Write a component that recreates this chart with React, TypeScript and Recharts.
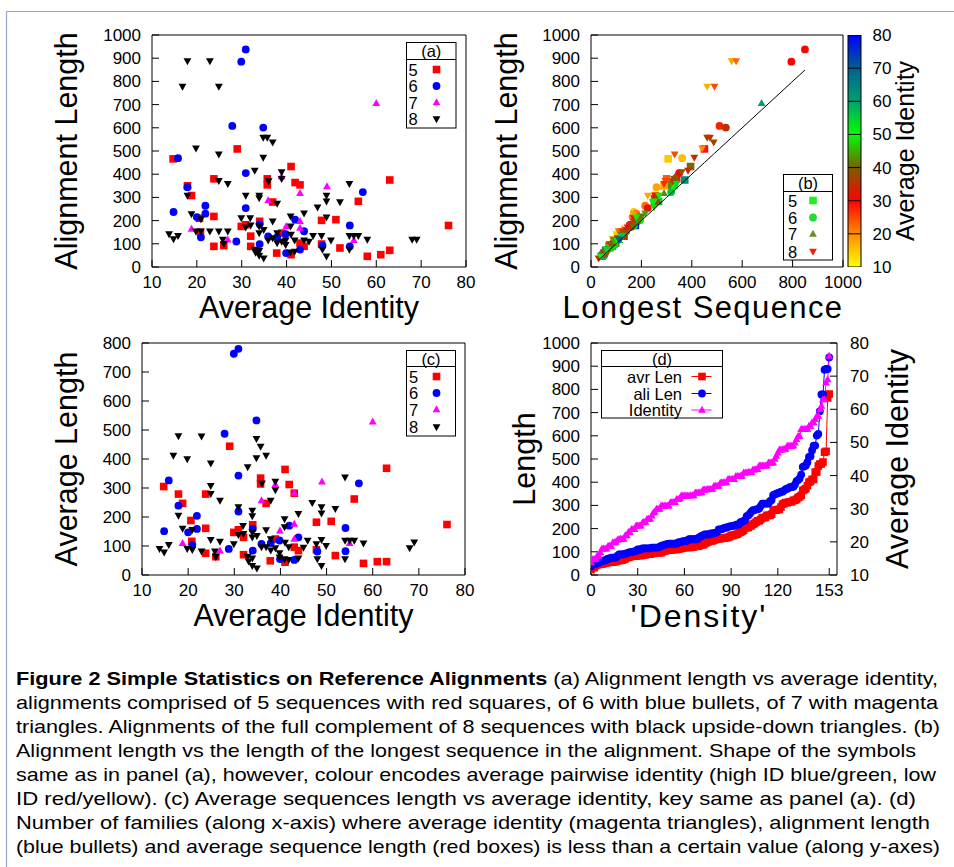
import React from 'react';
import {
  ScatterChart, Scatter, XAxis, YAxis, ComposedChart, Line, BarChart, Bar, ReferenceLine,
} from 'recharts';

const FONT = '"Liberation Sans", Arial, Helvetica, sans-serif';

// Families, one array per number of sequences: [average identity, alignment length, average length, longest sequence]
const fam5: number[][] = [
  [14.7, 466, 305, 306], [17.9, 350, 279, 290], [18.8, 308, 247, 255], [20.6, 210, 188, 195],
  [20.8, 150, 116, 125], [23.8, 380, 279, 300], [23.8, 218, 161, 175], [23.8, 89, 75, 78],
  [26.0, 92, 63, 72], [29.0, 509, 444, 450], [29.9, 175, 147, 155], [30.9, 182, 156, 160],
  [32.0, 133, 130, 131], [32.0, 89, 70, 78], [34.0, 197, 173, 178], [35.7, 380, 334, 340],
  [35.7, 354, 314, 320], [36.9, 280, 247, 252], [37.8, 60, 49, 52], [38.9, 146, 124, 130],
  [41.0, 433, 364, 395], [41.0, 53, 44, 48], [41.9, 364, 312, 330], [43.0, 354, 282, 320],
  [43.0, 103, 96, 98], [43.9, 89, 84, 85], [47.8, 201, 182, 188], [47.8, 99, 87, 92],
  [51.0, 204, 185, 192], [51.9, 82, 67, 75], [56.0, 283, 262, 268], [58.0, 46, 40, 43],
  [61.0, 53, 46, 50], [63.0, 375, 368, 372], [63.0, 72, 46, 58], [76.1, 179, 174, 176],
];
const fam6: number[][] = [
  [15.8, 469, 326, 362], [14.8, 237, 151, 170], [17.9, 344, 239, 260], [20.0, 215, 147, 165],
  [21.9, 264, 204, 215], [21.9, 230, 159, 180], [20.9, 128, 104, 105], [27.9, 608, 487, 510],
  [28.8, 110, 90, 92], [29.9, 885, 763, 795], [30.9, 938, 780, 849], [30.9, 405, 343, 350],
  [30.9, 254, 219, 225], [34.0, 185, 159, 165], [34.0, 99, 84, 88], [34.8, 601, 533, 535],
  [35.9, 132, 107, 115], [37.9, 129, 110, 115], [39.8, 142, 119, 128], [39.9, 60, 55, 56],
  [41.9, 204, 170, 185], [43.0, 75, 52, 65], [43.9, 154, 130, 140], [48.0, 93, 81, 86],
  [54.1, 179, 162, 170], [54.1, 89, 82, 85], [57.0, 323, 316, 318],
];
const fam7: number[][] = [
  [18.8, 164, 110, 125], [26.9, 118, 84, 95], [35.9, 287, 257, 262], [38.9, 390, 312, 335],
  [39.9, 175, 153, 160], [43.0, 318, 283, 290], [43.0, 197, 176, 182], [43.0, 168, 124, 150],
  [49.0, 347, 322, 330], [55.0, 115, 110, 112], [60.0, 706, 529, 677],
];
const fam8: number[][] = [
  [13.8, 142, 90, 100], [14.8, 121, 78, 85], [15.8, 135, 104, 105], [16.8, 778, 412, 461],
  [17.9, 888, 479, 558], [17.9, 308, 205, 225], [18.8, 228, 160, 170], [19.8, 512, 400, 441],
  [19.8, 154, 90, 110], [20.9, 207, 156, 165], [20.9, 154, 87, 110], [22.9, 888, 478, 576],
  [22.9, 154, 82, 115], [24.9, 778, 385, 490], [24.9, 486, 308, 332], [24.9, 372, 280, 295],
  [24.9, 154, 121, 125], [25.8, 118, 82, 90], [26.0, 100, 63, 75], [26.9, 359, 257, 290],
  [26.9, 154, 115, 125], [29.9, 211, 107, 170], [30.9, 308, 234, 255], [30.9, 171, 139, 145],
  [31.9, 211, 170, 180], [32.0, 180, 142, 155], [32.9, 416, 372, 385], [32.9, 75, 64, 66],
  [33.1, 62, 47, 52], [33.9, 308, 222, 260], [33.9, 297, 203, 250], [33.9, 175, 147, 155],
  [33.9, 146, 130, 133], [33.9, 70, 58, 62], [33.9, 49, 32, 40], [34.8, 558, 470, 472],
  [34.8, 472, 403, 410], [34.9, 37, 23, 30], [34.9, 160, 135, 140], [35.7, 558, 443, 461],
  [35.9, 115, 96, 100], [36.0, 370, 316, 325], [36.9, 538, 412, 487], [36.9, 197, 155, 170],
  [36.9, 125, 96, 105], [37.9, 273, 257, 260], [37.9, 146, 124, 130], [37.9, 103, 85, 90],
  [38.9, 409, 322, 360], [38.9, 380, 293, 330], [38.9, 110, 93, 97], [39.8, 115, 76, 95],
  [39.8, 96, 61, 80], [40.9, 218, 193, 200], [40.9, 175, 165, 168], [40.9, 63, 55, 58],
  [41.0, 140, 112, 120], [41.8, 115, 96, 102], [41.8, 67, 52, 58], [43.9, 232, 211, 215],
  [43.9, 115, 58, 90], [45.0, 110, 95, 100], [45.9, 135, 119, 125], [46.9, 257, 249, 250],
  [47.8, 135, 107, 120], [48.0, 75, 55, 65], [48.9, 308, 234, 270], [48.9, 283, 213, 250],
  [48.9, 214, 121, 180], [48.9, 46, 32, 38], [49.9, 115, 101, 105], [51.9, 280, 228, 245],
  [54.0, 359, 337, 340], [54.0, 135, 119, 125], [54.0, 75, 55, 62], [55.0, 135, 119, 125],
  [56.0, 135, 119, 126], [58.0, 118, 109, 112], [68.0, 118, 93, 110], [69.0, 118, 113, 115],
];

const identityTicks = [10, 20, 30, 40, 50, 60, 70, 80];
const length1000Ticks = [0, 100, 200, 300, 400, 500, 600, 700, 800, 900, 1000];
const length800Ticks = [0, 100, 200, 300, 400, 500, 600, 700, 800];
const longestTicks = [0, 200, 400, 600, 800, 1000];
const colorbarTicks = [10, 20, 30, 40, 50, 60, 70, 80];
const densityTicks = [0, 30, 60, 90, 120, 153];
const paletteStops: [number, string][] = [
  [10, '#ffff00'], [20, '#ff8c00'], [30, '#ff0000'], [40, '#786000'],
  [50, '#00ff00'], [60, '#00a070'], [70, '#006090'], [80, '#0000ff'],
];
const keyRows = ['5', '6', '7', '8'];
const keyColorsB = ['#22ee22', '#22dd33', '#6b8e23', '#ee2200'];

const captionLines = [
  'alignments comprised of 5 sequences with red squares, of 6 with blue bullets, of 7 with magenta',
  'triangles. Alignments of the full complement of 8 sequences with black upside-down triangles. (b)',
  'Alignment length vs the length of the longest sequence in the alignment. Shape of the symbols',
  'same as in panel (a), however, colour encodes average pairwise identity (high ID blue/green, low',
  'ID red/yellow). (c) Average sequences length vs average identity, key same as panel (a). (d)',
  'Number of families (along x-axis) where average identity (magenta triangles), alignment length',
  '(blue bullets) and average sequence length (red boxes) is less than a certain value (along y-axes)',
];
const captionEnds = [938, 940, 916, 936, 916, 930, 940];

type Shape = 'square' | 'circle' | 'up' | 'down';
const groups: { n: string; rows: number[][]; color: string; shape: Shape }[] = [
  { n: '5', rows: fam5, color: '#ff0000', shape: 'square' },
  { n: '6', rows: fam6, color: '#0000ff', shape: 'circle' },
  { n: '7', rows: fam7, color: '#ff00ff', shape: 'up' },
  { n: '8', rows: fam8, color: '#000000', shape: 'down' },
];

const allFams = groups.flatMap((g) => g.rows.map((r) => ({ id: r[0], ali: r[1], avr: r[2], longest: r[3] })));
const asc = (a: number, b: number) => a - b;
const sortedAvr = allFams.map((f) => f.avr).sort(asc);
const sortedAli = allFams.map((f) => f.ali).sort(asc);
const sortedId = allFams.map((f) => f.id).sort(asc);
const densityRows = sortedAvr.map((v, i) => ({ i, avr: v, ali: sortedAli[i], ident: sortedId[i] }));
const diagonal = allFams.map((f) => ({ x: f.longest, y: f.longest })).sort((a, b) => a.x - b.x);

function hexToRgb(h: string) {
  return [parseInt(h.slice(1, 3), 16), parseInt(h.slice(3, 5), 16), parseInt(h.slice(5, 7), 16)];
}
function paletteColor(v: number) {
  const t = Math.max(10, Math.min(80, v));
  for (let k = 0; k < paletteStops.length - 1; k++) {
    const [a, ca] = paletteStops[k];
    const [b, cb] = paletteStops[k + 1];
    if (t >= a && t <= b) {
      const f = (t - a) / (b - a);
      const A = hexToRgb(ca);
      const B = hexToRgb(cb);
      const c = A.map((x, j) => Math.round(x + (B[j] - x) * f));
      return `rgb(${c[0]},${c[1]},${c[2]})`;
    }
  }
  return paletteStops[paletteStops.length - 1][1];
}

function marker(shape: Shape, cx: number, cy: number, fill: string, k?: any) {
  if (cx == null || cy == null || isNaN(cx) || isNaN(cy)) return <g key={k} />;
  switch (shape) {
    case 'square':
      return <rect key={k} x={cx - 3.8} y={cy - 3.8} width={7.6} height={7.6} fill={fill} />;
    case 'circle':
      return <circle key={k} cx={cx} cy={cy} r={3.9} fill={fill} />;
    case 'up':
      return <polygon key={k} points={`${cx},${cy - 4.2} ${cx + 3.9},${cy + 2.8} ${cx - 3.9},${cy + 2.8}`} fill={fill} />;
    default:
      return <polygon key={k} points={`${cx - 3.9},${cy - 2.8} ${cx + 3.9},${cy - 2.8} ${cx},${cy + 4.2}`} fill={fill} />;
  }
}

const TICK = { fill: '#000', fontSize: 17, fontFamily: FONT };
const AX = { stroke: '#000', strokeWidth: 1 };

const yTitle = (text: string, dx: number, size = 30.5) => ({
  content: (p: any) => {
    const vb = p.viewBox;
    const x = vb.x + dx;
    const y = vb.y + vb.height / 2;
    return (
      <text x={x} y={y} transform={`rotate(-90 ${x} ${y})`} textAnchor="middle" dominantBaseline="central"
        fontSize={size} fontFamily={FONT} fill="#000">{text}</text>
    );
  },
});
const xTitle = (text: string, dx: number, fromBottom: number, size = 30.5, spacing = 0) => ({
  content: (p: any) => {
    const vb = p.viewBox;
    return (
      <text x={vb.x + vb.width / 2 + dx} y={vb.y + vb.height - fromBottom} textAnchor="middle"
        fontSize={size} fontFamily={FONT} fill="#000" letterSpacing={spacing}>{text}</text>
    );
  },
});

function IdentityPanel(props: { left: number; top: number; width: number; height: number; margin: any; yw: number; xh: number;
  yMax: number; yTicks: number[]; yIdx: number; yLabel: string; yLabelDx: number; xLabelDx: number; xLabelBottom: number }) {
  const p = props;
  return (
    <div style={{ position: 'absolute', left: p.left, top: p.top }}>
      <ScatterChart width={p.width} height={p.height} margin={p.margin}>
        <XAxis xAxisId="b" dataKey="x" type="number" domain={[10, 80]} ticks={identityTicks} interval={0} allowDataOverflow
          height={p.xh} tickSize={-7} tickMargin={16} tick={TICK} axisLine={AX} tickLine={AX}
          label={xTitle('Average Identity', p.xLabelDx, p.xLabelBottom)} />
        <XAxis xAxisId="t" orientation="top" type="number" domain={[10, 80]} ticks={identityTicks} interval={0} allowDataOverflow
          height={1} tickSize={-7} tick={false} axisLine={AX} tickLine={AX} />
        <YAxis yAxisId="l" dataKey="y" type="number" domain={[0, p.yMax]} ticks={p.yTicks} interval={0} allowDataOverflow
          width={p.yw} tickSize={-7} tickMargin={18} tick={TICK} axisLine={AX} tickLine={AX}
          label={yTitle(p.yLabel, p.yLabelDx)} />
        <YAxis yAxisId="r" orientation="right" type="number" domain={[0, p.yMax]} ticks={p.yTicks} interval={0} allowDataOverflow
          width={1} tickSize={-7} tick={false} axisLine={AX} tickLine={AX} />
        {groups.map((g) => (
          <Scatter key={g.n} xAxisId="b" yAxisId="l" data={g.rows.map((r) => ({ x: r[0], y: r[p.yIdx] }))}
            fill={g.color} isAnimationActive={false}
            shape={(s: any) => marker(g.shape, s.cx, s.cy, g.color)} />
        ))}
      </ScatterChart>
    </div>
  );
}

function PanelB() {
  return (
    <div style={{ position: 'absolute', left: 480, top: 0 }}>
      <ScatterChart width={384} height={330} margin={{ top: 34, right: 20, bottom: 0, left: 0 }}>
        <XAxis xAxisId="b" dataKey="x" type="number" domain={[0, 1000]} ticks={longestTicks} interval={0} allowDataOverflow
          height={63} tickSize={-7} tickMargin={16} tick={TICK} axisLine={AX} tickLine={AX}
          label={xTitle('Longest Sequence', -14, 12, 31, 1.4)} />
        <XAxis xAxisId="t" orientation="top" type="number" domain={[0, 1000]} ticks={longestTicks} interval={0} allowDataOverflow
          height={1} tickSize={-7} tick={false} axisLine={AX} tickLine={AX} />
        <YAxis yAxisId="l" dataKey="y" type="number" domain={[0, 1000]} ticks={length1000Ticks} interval={0} allowDataOverflow
          width={111} tickSize={-7} tickMargin={18} tick={TICK} axisLine={AX} tickLine={AX}
          label={yTitle('Alignment Length', 26)} />
        <YAxis yAxisId="r" orientation="right" type="number" domain={[0, 1000]} ticks={length1000Ticks} interval={0} allowDataOverflow
          width={1} tickSize={-7} tick={false} axisLine={AX} tickLine={AX} />
        {groups.map((g) => (
          <Scatter key={g.n} xAxisId="b" yAxisId="l" data={g.rows.map((r) => ({ x: r[3], y: r[1], id: r[0] }))}
            isAnimationActive={false}
            shape={(s: any) => marker(g.shape, s.cx, s.cy, paletteColor(s.payload ? s.payload.id : s.id))} />
        ))}
        <Scatter xAxisId="b" yAxisId="l" data={diagonal} isAnimationActive={false}
          line={{ stroke: '#000', strokeWidth: 1 }} shape={() => <g />} />
      </ScatterChart>
    </div>
  );
}

function ColorBar() {
  const data = [{ name: 'identity', top: 80 }];
  return (
    <div style={{ position: 'absolute', left: 840, top: 0 }}>
      <BarChart width={114} height={300} data={data} margin={{ top: 35, right: 0, bottom: 33, left: 8 }} barCategoryGap={0}>
        <defs>
          <linearGradient id="cbg" x1="0" y1="1" x2="0" y2="0">
            {paletteStops.map(([v, c]) => (
              <stop key={v} offset={`${((v - 10) / 70) * 100}%`} stopColor={c} />
            ))}
          </linearGradient>
        </defs>
        <XAxis dataKey="name" type="category" hide />
        <YAxis orientation="right" type="number" domain={[10, 80]} ticks={colorbarTicks} interval={0} allowDataOverflow
          width={93.5} tickSize={0} tickMargin={12} tick={TICK} axisLine={false} tickLine={false}
          label={yTitle('Average Identity', 44.5, 25)} />
        <Bar dataKey="top" fill="url(#cbg)" stroke="#000" strokeWidth={1} isAnimationActive={false} />
        {colorbarTicks.slice(1, -1).map((v) => (
          <ReferenceLine key={v} y={v} stroke="#000" strokeWidth={1} />
        ))}
      </BarChart>
    </div>
  );
}

function PanelD() {
  return (
    <div style={{ position: 'absolute', left: 480, top: 300 }}>
      <ComposedChart width={474} height={340} data={densityRows} margin={{ top: 42, right: 0, bottom: 0, left: 0 }}>
        <XAxis xAxisId="b" dataKey="i" type="number" domain={[0, 158]} ticks={densityTicks} interval={0} allowDataOverflow
          height={65} tickSize={-7} tickMargin={16} tick={TICK} axisLine={AX} tickLine={AX}
          label={xTitle("'Density'", -15, 13, 32, 2)} />
        <XAxis xAxisId="t" orientation="top" type="number" domain={[0, 158]} ticks={densityTicks} interval={0} allowDataOverflow
          height={1} tickSize={-7} tick={false} axisLine={AX} tickLine={AX} />
        <YAxis yAxisId="l" type="number" domain={[0, 1000]} ticks={length1000Ticks} interval={0} allowDataOverflow
          width={111} tickSize={-7} tickMargin={18} tick={TICK} axisLine={AX} tickLine={AX}
          label={yTitle('Length', 44)} />
        <YAxis yAxisId="r" orientation="right" type="number" domain={[10, 80]} ticks={colorbarTicks} interval={0} allowDataOverflow
          width={117} tickSize={-7} tickMargin={20} tick={TICK} axisLine={AX} tickLine={AX}
          label={yTitle('Average Identity', 60)} />
        <Line xAxisId="b" yAxisId="l" dataKey="avr" stroke="#ff0000" strokeWidth={1} isAnimationActive={false}
          dot={(d: any) => marker('square', d.cx, d.cy, '#ff0000', d.index)} activeDot={false} />
        <Line xAxisId="b" yAxisId="l" dataKey="ali" stroke="#0000ff" strokeWidth={1} isAnimationActive={false}
          dot={(d: any) => marker('circle', d.cx, d.cy, '#0000ff', d.index)} activeDot={false} />
        <Line xAxisId="b" yAxisId="r" dataKey="ident" stroke="#ff00ff" strokeWidth={1} isAnimationActive={false}
          dot={(d: any) => marker('up', d.cx, d.cy, '#ff00ff', d.index)} activeDot={false} />
      </ComposedChart>
    </div>
  );
}

function KeyBox(p: { x: number; y: number; w: number; h: number; div: number; title: string; rowsY: number[];
  labelX: number; markerX: number; colors: string[] }) {
  const shapes: Shape[] = ['square', 'circle', 'up', 'down'];
  return (
    <g>
      <rect x={p.x} y={p.y} width={p.w} height={p.h} fill="#fff" stroke="#000" strokeWidth={1} />
      <line x1={p.x} x2={p.x + p.w} y1={p.div} y2={p.div} stroke="#000" strokeWidth={1} />
      <text x={p.x + p.w / 2} y={(p.y + p.div) / 2} textAnchor="middle" dominantBaseline="central"
        fontSize={16.5} fontFamily={FONT}>{p.title}</text>
      {keyRows.map((r, i) => (
        <g key={r}>
          <text x={p.labelX} y={p.rowsY[i]} dominantBaseline="central" fontSize={16.5} fontFamily={FONT}>{r}</text>
          {marker(shapes[i], p.markerX, p.rowsY[i], p.colors[i])}
        </g>
      ))}
    </g>
  );
}

function Overlay() {
  const dRows = [
    { t: 'avr Len', c: '#ff0000', s: 'square' as Shape },
    { t: 'ali Len', c: '#0000ff', s: 'circle' as Shape },
    { t: 'Identity', c: '#ff00ff', s: 'up' as Shape },
  ];
  const dY = [376.5, 393.5, 410];
  const abc = ['#ff0000', '#0000ff', '#ff00ff', '#000000'];
  return (
    <svg width={954} height={867} style={{ position: 'absolute', left: 0, top: 0, pointerEvents: 'none' }}>
      <line x1={6.5} y1={11.5} x2={954} y2={11.5} stroke="#94a7c8" strokeWidth={1.2} />
      <line x1={6.5} y1={11.5} x2={6.5} y2={867} stroke="#94a7c8" strokeWidth={1.2} />
      <KeyBox x={406.5} y={42.5} w={49.5} h={85.5} div={59.5} title="(a)" rowsY={[69.5, 86, 102.5, 119]}
        labelX={408.5} markerX={436.5} colors={abc} />
      <KeyBox x={783.5} y={174.5} w={49} h={85.5} div={191.5} title="(b)" rowsY={[200.5, 217.5, 234, 251.5]}
        labelX={788} markerX={813} colors={keyColorsB} />
      <KeyBox x={406.5} y={350.5} w={49} h={85.5} div={366.5} title="(c)" rowsY={[376.5, 393, 409.5, 427]}
        labelX={409} markerX={436.5} colors={abc} />
      <g>
        <rect x={601.5} y={350.5} width={121} height={67.5} fill="#fff" stroke="#000" strokeWidth={1} />
        <line x1={601.5} x2={722.5} y1={366.5} y2={366.5} stroke="#000" strokeWidth={1} />
        <text x={662} y={358.5} textAnchor="middle" dominantBaseline="central" fontSize={16.5} fontFamily={FONT}>(d)</text>
        {dRows.map((r, i) => (
          <g key={r.t}>
            <text x={682} y={dY[i]} textAnchor="end" dominantBaseline="central" fontSize={16.5} fontFamily={FONT}>{r.t}</text>
            <line x1={691.5} x2={711.5} y1={dY[i]} y2={dY[i]} stroke={r.c} strokeWidth={1} />
            {marker(r.s, 702, dY[i], r.c)}
          </g>
        ))}
      </g>
      <text x={16} y={685} textLength={922} lengthAdjust="spacingAndGlyphs" fontSize={19} fontFamily={FONT} fill="#000">
        <tspan fontWeight="bold">Figure 2 Simple Statistics on Reference Alignments</tspan>
        <tspan> (a) Alignment length vs average identity,</tspan>
      </text>
      {captionLines.map((line, i) => (
        <text key={i} x={16} y={709 + i * 24} textLength={captionEnds[i] - 16} lengthAdjust="spacingAndGlyphs"
          fontSize={19} fontFamily={FONT} fill="#000">{line}</text>
      ))}
    </svg>
  );
}

export default function App() {
  return (
    <div style={{ position: 'absolute', left: 0, top: 0, width: 954, height: 867, background: '#fff', overflow: 'hidden' }}>
      <IdentityPanel left={0} top={0} width={480} height={330} margin={{ top: 34, right: 13, bottom: 0, left: 0 }}
        yw={152} xh={63} yMax={1000} yTicks={length1000Ticks} yIdx={1} yLabel="Alignment Length" yLabelDx={66}
        xLabelDx={0} xLabelBottom={12} />
      <PanelB />
      <ColorBar />
      <IdentityPanel left={0} top={300} width={480} height={340} margin={{ top: 42, right: 14, bottom: 0, left: 0 }}
        yw={142} xh={65} yMax={800} yTicks={length800Ticks} yIdx={2} yLabel="Average Length" yLabelDx={66}
        xLabelDx={0} xLabelBottom={14} />
      <PanelD />
      <Overlay />
    </div>
  );
}
